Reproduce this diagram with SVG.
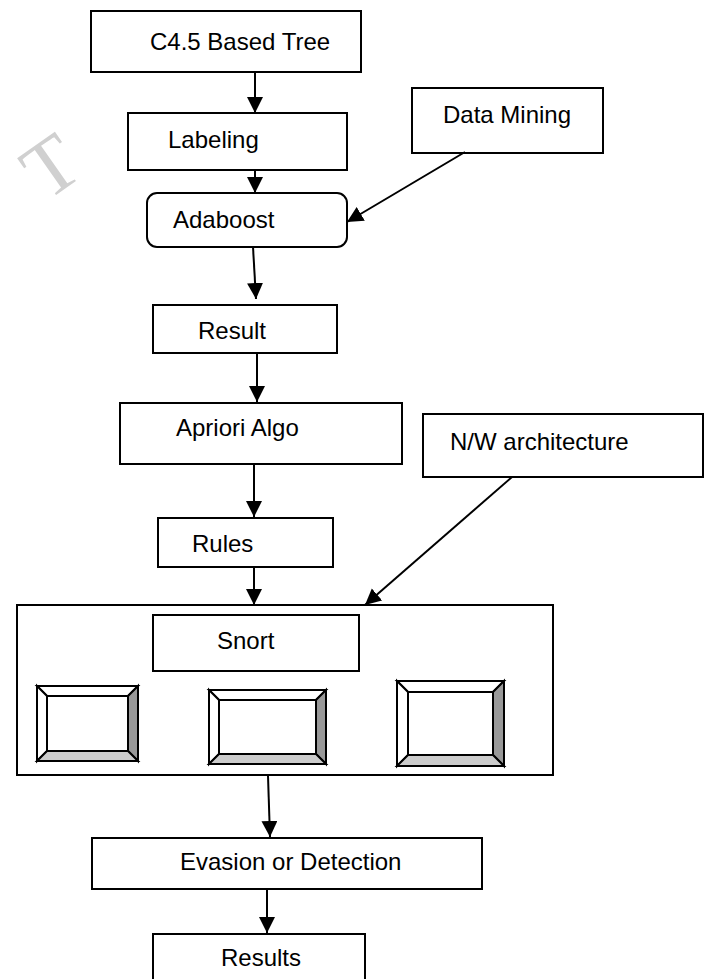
<svg xmlns="http://www.w3.org/2000/svg" width="710" height="979" viewBox="0 0 710 979">
<style>
.box{fill:#fff;stroke:#000;stroke-width:2}
.lbl{font-family:"Liberation Sans",Arial,sans-serif;font-size:24px;fill:#000}
.conn{stroke:#000;stroke-width:2;fill:none}
.bv{stroke:#000;stroke-width:2;stroke-linejoin:miter}
.wm{font-family:"Liberation Serif","Times New Roman",serif;font-size:80px;fill:#d0d0d0}
</style>
<defs>
<marker id="ah" markerUnits="userSpaceOnUse" markerWidth="17" markerHeight="17" refX="16" refY="8" orient="auto">
<path d="M0,0 L16,8 L0,16 z" fill="#000"/>
</marker>
</defs>
<rect width="710" height="979" fill="#fff"/>
<g id="watermark">
<text class="wm" transform="translate(46,202) rotate(-35)">T</text>
</g>
<g id="n-c45">
<rect class="box" x="91" y="11" width="270" height="61"/>
<text class="lbl" x="150" y="50">C4.5 Based Tree</text>
</g>
<g id="n-labeling">
<rect class="box" x="128" y="113" width="219" height="57"/>
<text class="lbl" x="168" y="148">Labeling</text>
</g>
<g id="n-adaboost">
<rect class="box" x="147" y="193" width="200" height="54" rx="10" ry="10"/>
<text class="lbl" x="173" y="228">Adaboost</text>
</g>
<g id="n-datamining">
<rect class="box" x="412" y="88" width="191" height="65"/>
<text class="lbl" x="443" y="123">Data Mining</text>
</g>
<g id="n-result">
<rect class="box" x="153" y="305" width="184" height="48"/>
<text class="lbl" x="198" y="339">Result</text>
</g>
<g id="n-apriori">
<rect class="box" x="120" y="403" width="282" height="61"/>
<text class="lbl" x="176" y="436">Apriori Algo</text>
</g>
<g id="n-nw">
<rect class="box" x="423" y="414" width="280" height="63"/>
<text class="lbl" x="450" y="450">N/W architecture</text>
</g>
<g id="n-rules">
<rect class="box" x="158" y="518" width="175" height="49"/>
<text class="lbl" x="192" y="552">Rules</text>
</g>
<g id="n-snort-container">
<rect class="box" x="17" y="605" width="536" height="170"/>
</g>
<g id="n-snort">
<rect class="box" x="153" y="615" width="206" height="56"/>
<text class="lbl" x="217" y="649">Snort</text>
</g>
<g id="n-sensor1">
<rect x="37" y="686" width="101" height="75" fill="#fff"/>
<polygon class="bv" points="37,686 138,686 128,696 47,696" fill="#fff"/>
<polygon class="bv" points="37,686 47,696 47,751 37,761" fill="#fff"/>
<polygon class="bv" points="138,686 138,761 128,751 128,696" fill="#999"/>
<polygon class="bv" points="37,761 47,751 128,751 138,761" fill="#ccc"/>
<rect class="bv" x="47" y="696" width="81" height="55" fill="#fff"/>
</g>
<g id="n-sensor2">
<rect x="209" y="690" width="117" height="74" fill="#fff"/>
<polygon class="bv" points="209,690 326,690 316,700 219,700" fill="#fff"/>
<polygon class="bv" points="209,690 219,700 219,754 209,764" fill="#fff"/>
<polygon class="bv" points="326,690 326,764 316,754 316,700" fill="#999"/>
<polygon class="bv" points="209,764 219,754 316,754 326,764" fill="#ccc"/>
<rect class="bv" x="219" y="700" width="97" height="54" fill="#fff"/>
</g>
<g id="n-sensor3">
<rect x="397" y="681" width="107" height="85" fill="#fff"/>
<polygon class="bv" points="397,681 504,681 493,692 408,692" fill="#fff"/>
<polygon class="bv" points="397,681 408,692 408,755 397,766" fill="#fff"/>
<polygon class="bv" points="504,681 504,766 493,755 493,692" fill="#999"/>
<polygon class="bv" points="397,766 408,755 493,755 504,766" fill="#ccc"/>
<rect class="bv" x="408" y="692" width="85" height="63" fill="#fff"/>
</g>
<g id="n-evasion">
<rect class="box" x="92" y="838" width="390" height="51"/>
<text class="lbl" x="180" y="870">Evasion or Detection</text>
</g>
<g id="n-results">
<rect class="box" x="153" y="934" width="212" height="50"/>
<text class="lbl" x="221" y="966">Results</text>
</g>
<g id="connectors">
<line class="conn" x1="255" y1="72" x2="255" y2="113" marker-end="url(#ah)"/>
<line class="conn" x1="255" y1="170" x2="255" y2="193" marker-end="url(#ah)"/>
<line class="conn" x1="465" y1="152" x2="347" y2="222" marker-end="url(#ah)"/>
<line class="conn" x1="253" y1="247" x2="256" y2="299" marker-end="url(#ah)"/>
<line class="conn" x1="257" y1="353" x2="257" y2="402" marker-end="url(#ah)"/>
<line class="conn" x1="254" y1="464" x2="254" y2="517" marker-end="url(#ah)"/>
<line class="conn" x1="254" y1="567" x2="254" y2="605" marker-end="url(#ah)"/>
<line class="conn" x1="512" y1="477" x2="365" y2="605" marker-end="url(#ah)"/>
<line class="conn" x1="268" y1="776" x2="270" y2="837" marker-end="url(#ah)"/>
<line class="conn" x1="267" y1="889" x2="267" y2="933" marker-end="url(#ah)"/>
</g>
</svg>
